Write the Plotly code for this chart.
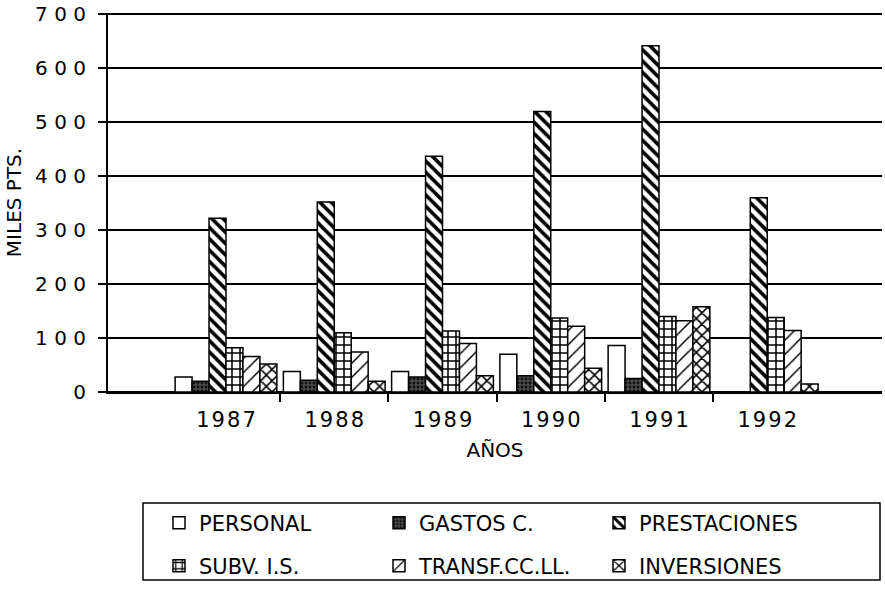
import plotly.graph_objects as go

years = ["1987", "1988", "1989", "1990", "1991", "1992"]
personal = [28, 38, 38, 70, 86, 0]
gastos = [20, 22, 28, 30, 25, 0]
prestaciones = [322, 352, 437, 520, 642, 360]
subv = [82, 110, 113, 137, 140, 138]
transf = [66, 74, 90, 122, 132, 114]
inversiones = [52, 20, 30, 44, 158, 15]

y_ticks = [0, 100, 200, 300, 400, 500, 600, 700]

def spaced(s, sp):
    return sp.join(list(s))

xpos = list(range(len(years)))
series = [
    ("PERSONAL", personal, "white", "", "black", "legend"),
    ("GASTOS C.", gastos, "#4a4a4a", ".", "#111111", "legend"),
    ("PRESTACIONES", prestaciones, "white", "\\", "black", "legend"),
    ("SUBV. I.S.", subv, "white", "+", "black", "legend2"),
    ("TRANSF.CC.LL.", transf, "white", "/", "black", "legend2"),
    ("INVERSIONES", inversiones, "white", "x", "black", "legend2"),
]

fig = go.Figure()
for name, vals, bg, shape, fg, leg in series:
    pattern = dict(shape=shape, bgcolor=bg, fgcolor=fg, size=8, solidity=0.35, fillmode="replace")
    if shape == "":
        pattern = dict(shape="")
    if shape == "\\":
        pattern["solidity"] = 0.45
    if shape == "/":
        pattern["size"] = 10
        pattern["solidity"] = 0.15
    if shape == ".":
        pattern["size"] = 4
        pattern["solidity"] = 0.4
    fig.add_trace(go.Bar(
        x=xpos, y=vals, name=name, legend=leg,
        marker=dict(color=bg, line=dict(color="black", width=1.5), pattern=pattern),
    ))

font_family = "DejaVu Sans, Liberation Sans, sans-serif"

W, H = 885, 595
L, R, T, B = 108, 3, 13, 203
plot_w = W - L - R
plot_h = H - T - B

def px_x(page_x):
    return (page_x - L) / plot_w

def px_y(page_y):
    return (H - B - page_y) / plot_h

legend_common = dict(
    orientation="h", xanchor="left", yanchor="middle",
    borderwidth=0, bgcolor="rgba(0,0,0,0)",
    font=dict(size=21), entrywidth=175, entrywidthmode="pixels",
    itemwidth=30,
)

fig.update_layout(
    width=W, height=H,
    paper_bgcolor="white", plot_bgcolor="white",
    margin=dict(l=L, r=R, t=T, b=B),
    barmode="group", bargap=0.06, bargroupgap=0.0,
    font=dict(family=font_family, color="black", size=17),
    xaxis=dict(
        automargin=False,
        range=[-1.09, 6.06],
        tickmode="array", tickvals=xpos,
        ticktext=[spaced(y, "\u200a") for y in years],
        ticks="", showgrid=False, zeroline=False,
        showline=True, linecolor="black", linewidth=2,
        tickfont=dict(size=21), ticklabelstandoff=8,
        minor=dict(tickmode="array", tickvals=[0.5, 1.5, 2.5, 3.5, 4.5],
                   ticks="outside", ticklen=8, tickcolor="black", tickwidth=1.5, showgrid=False),
        title=dict(text="AÑOS", font=dict(size=20), standoff=12),
    ),
    yaxis=dict(
        automargin=False,
        range=[0, 702.5],
        tickmode="array", tickvals=y_ticks,
        ticktext=[spaced(str(v), " ") for v in y_ticks],
        ticks="outside", ticklen=8, tickcolor="black", tickwidth=1.5,
        showgrid=True, gridcolor="black", gridwidth=1.5,
        zeroline=True, zerolinecolor="black", zerolinewidth=3,
        showline=True, linecolor="black", linewidth=2,
        tickfont=dict(size=20), ticklabelstandoff=8,
        title=dict(text="MILES PTS.", font=dict(size=20), standoff=8),
    ),
    legend=dict(x=px_x(159), y=px_y(523), **legend_common),
    legend2=dict(x=px_x(159), y=px_y(566), **legend_common),
    shapes=[dict(
        type="rect", xref="paper", yref="paper",
        x0=px_x(143), x1=px_x(880), y0=px_y(503), y1=px_y(580),
        line=dict(color="black", width=1.5), fillcolor="rgba(0,0,0,0)",
    )],
)

fig.write_html("out.html", config={"displayModeBar": False},
               post_script="document.body.style.margin='0';")
